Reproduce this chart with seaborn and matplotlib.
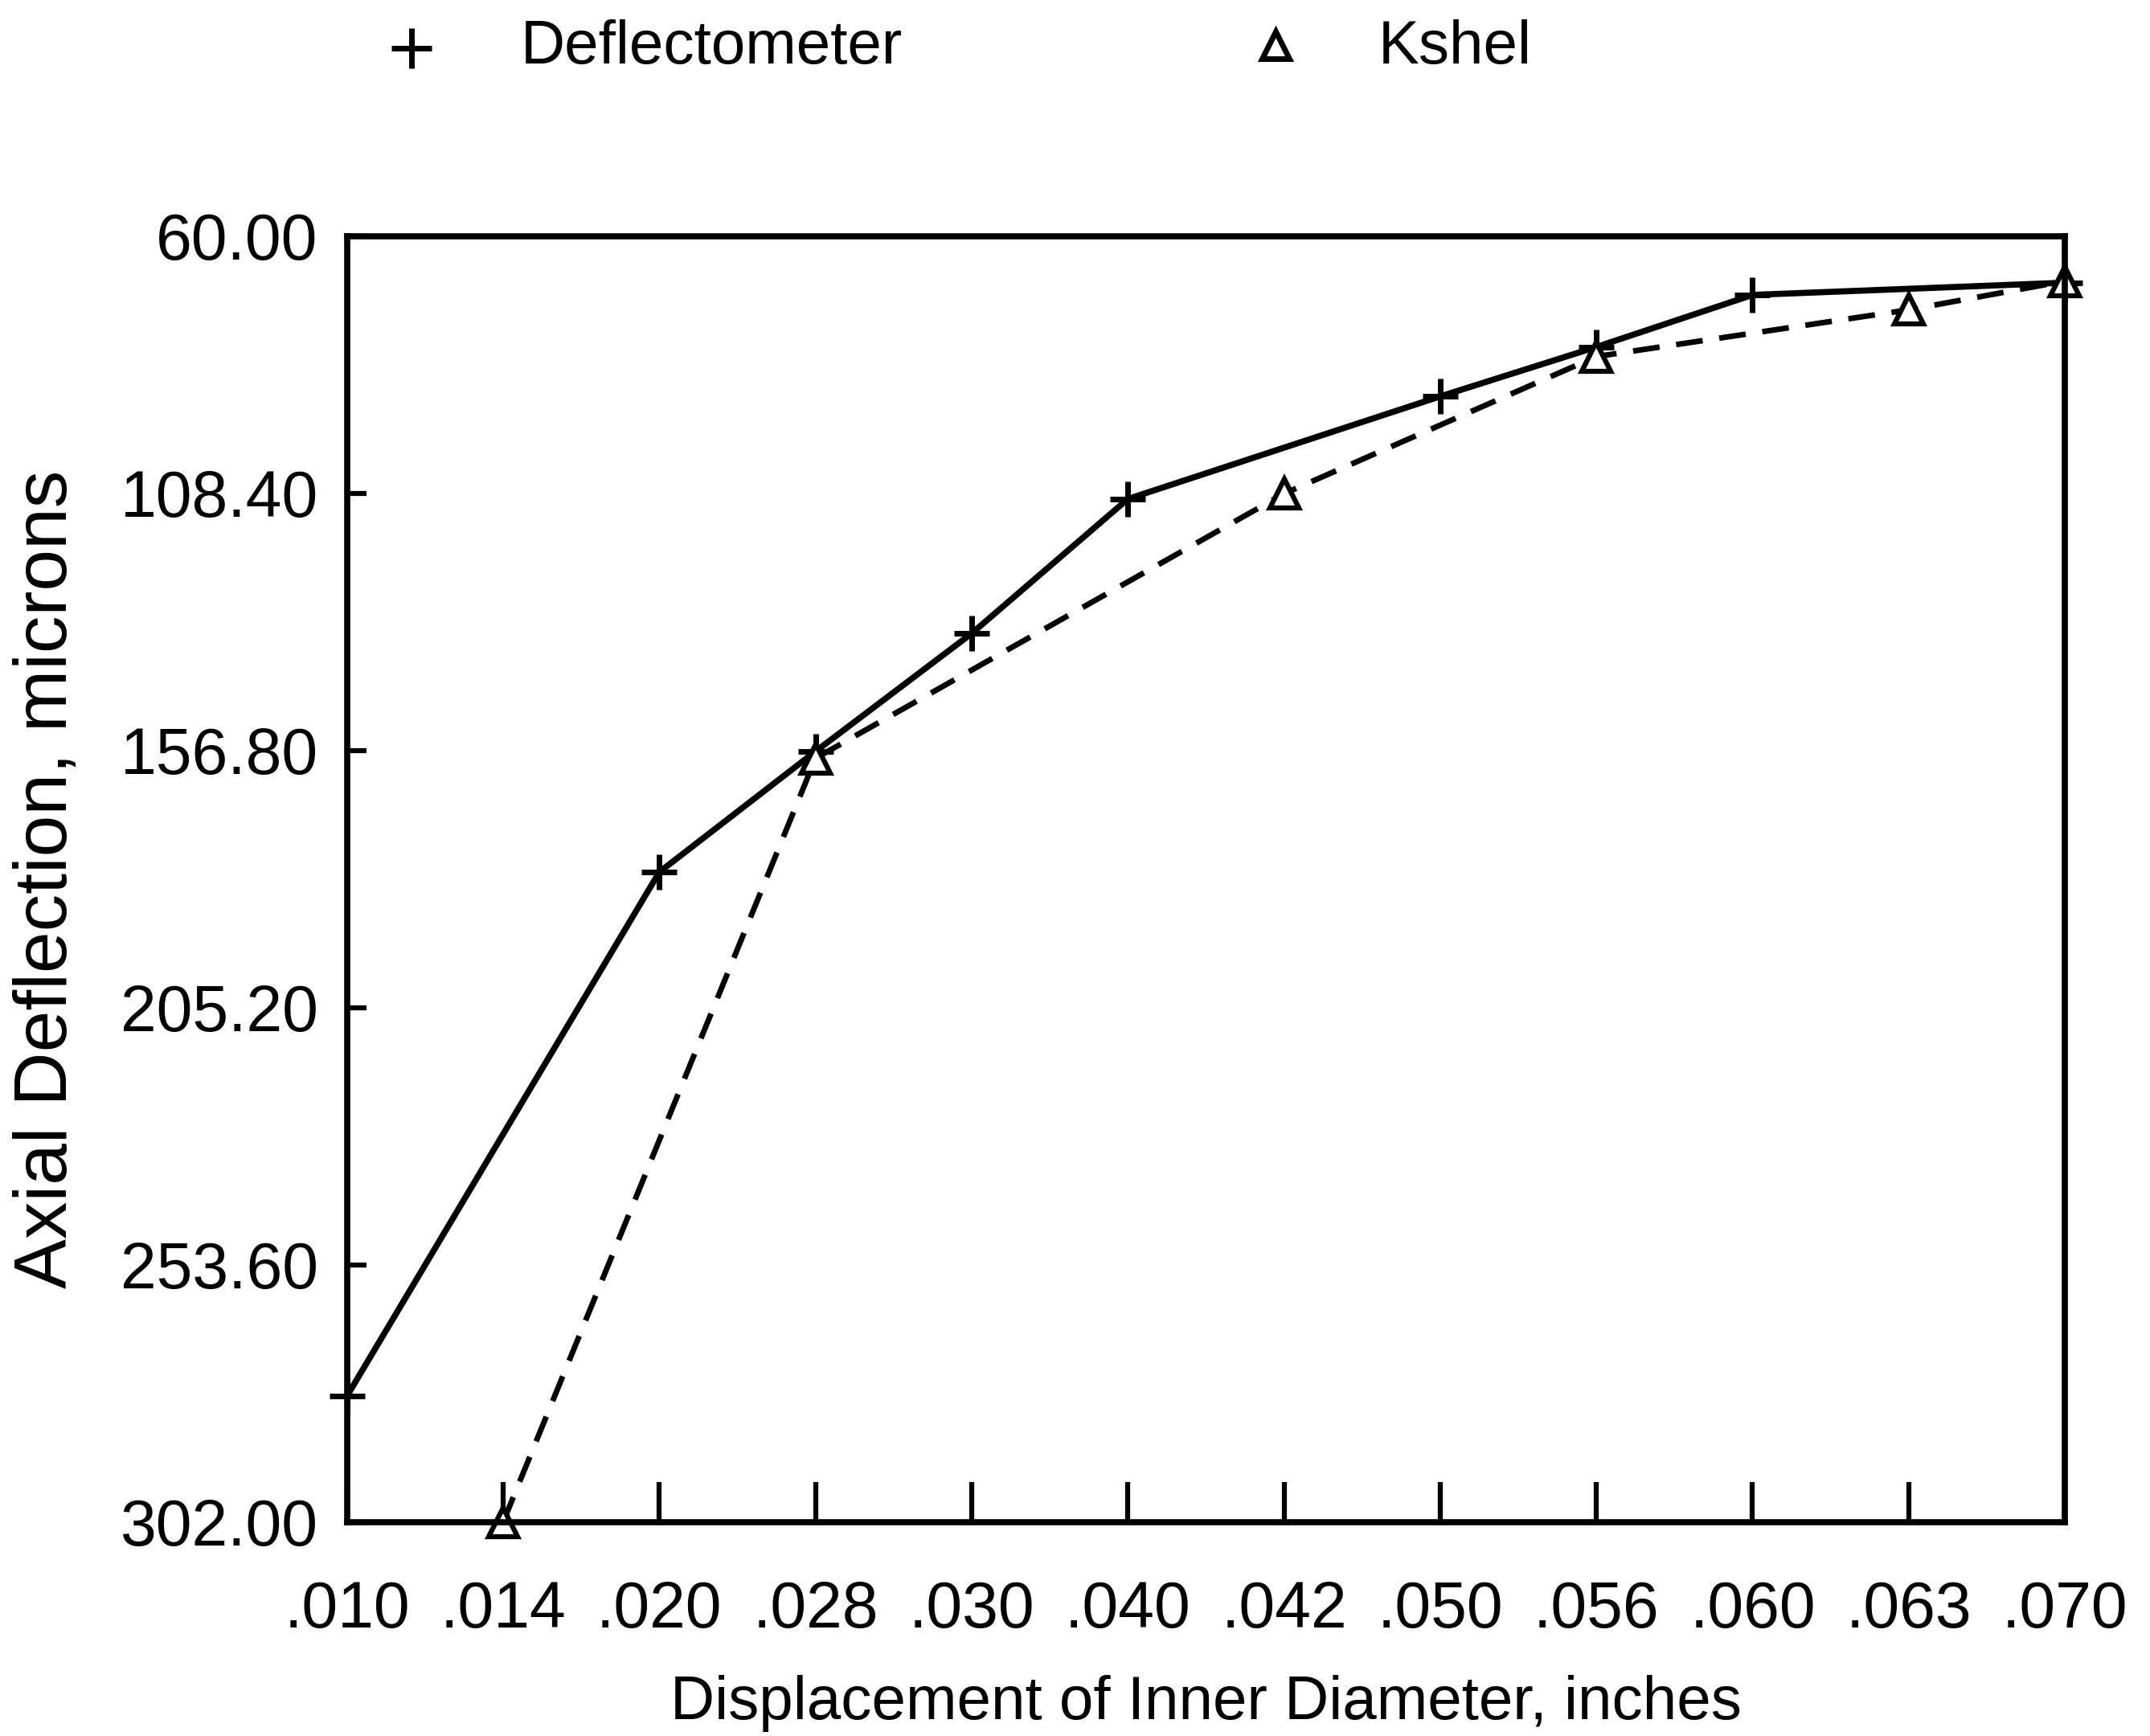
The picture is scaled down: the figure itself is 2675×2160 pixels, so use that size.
import pandas as pd
import seaborn as sns
import matplotlib.pyplot as plt
from matplotlib.lines import Line2D

# x positions are evenly spaced categories
x_labels = [".010", ".014", ".020", ".028", ".030", ".040",
            ".042", ".050", ".056", ".060", ".063", ".070"]
y_ticks = [60.00, 108.40, 156.80, 205.20, 253.60, 302.00]

defl_x = [".010", ".020", ".028", ".030", ".040", ".050", ".056", ".060", ".070"]
defl_y = [278.3, 179.7, 157.0, 134.8, 109.5, 90.2, 80.9, 71.1, 68.8]

kshel_x = [".014", ".028", ".042", ".056", ".063", ".070"]
kshel_y = [302.0, 158.3, 108.5, 82.7, 73.9, 68.5]

sns.set_style("white")
plt.rcParams['font.family'] = ['Liberation Sans', 'DejaVu Sans']
plt.rcParams['text.color'] = 'black'
plt.rcParams['axes.labelcolor'] = 'black'
plt.rcParams['xtick.color'] = 'black'
plt.rcParams['ytick.color'] = 'black'

df_d = pd.DataFrame({"pos": [x_labels.index(v) for v in defl_x], "val": defl_y})
df_k = pd.DataFrame({"pos": [x_labels.index(v) for v in kshel_x], "val": kshel_y})

fig = plt.figure(figsize=(26.75, 21.6), dpi=100)
ax = fig.add_axes([0.1614, 0.1233, 0.799, 0.7408])

sns.lineplot(data=df_d, x="pos", y="val", ax=ax, color="black", linewidth=5.5,
             marker="+", markersize=32, markeredgewidth=5,
             markeredgecolor="black", clip_on=False)
sns.lineplot(data=df_k, x="pos", y="val", ax=ax, color="black", linewidth=5,
             linestyle=(0, (4.8, 3.0)), marker="^", markersize=26,
             markerfacecolor="white", markeredgecolor="black",
             markeredgewidth=4.5, clip_on=False)

ax.set_xlim(0, len(x_labels) - 1)
ax.set_ylim(302, 60)
ax.set_xticks(range(len(x_labels)))
ax.set_xticklabels(x_labels)
ax.set_yticks(y_ticks)
ax.set_yticklabels(["%.2f" % v for v in y_ticks])
ax.tick_params(axis="x", bottom=True, direction="in", length=36, width=4.5,
               labelsize=58, pad=52)
ax.tick_params(axis="y", left=True, direction="in", length=17, width=4.5,
               labelsize=58, pad=26)

for s in ax.spines.values():
    s.set_linewidth(5.5)
    s.set_color("black")

ax.set_xlabel("Displacement of Inner Diameter, inches", fontsize=55, labelpad=30)
ax.set_ylabel("Axial Deflection, microns", fontsize=67, labelpad=34)

# legend drawn above the axes
fig.add_artist(Line2D([512 / 2675], [1 - 60 / 2160], transform=fig.transFigure,
                      marker="+", markersize=36, markeredgewidth=5, color="black"))
fig.text(648 / 2675, 1 - 60 / 2160, "Deflectometer", fontsize=55, va="center", ha="left")
fig.add_artist(Line2D([1587 / 2675], [1 - 56 / 2160], transform=fig.transFigure,
                      marker="^", markersize=24, markeredgewidth=5,
                      markerfacecolor="white", color="black"))
fig.text(1715 / 2675, 1 - 60 / 2160, "Kshel", fontsize=55, va="center", ha="left")

fig.savefig("out.png", dpi=100, facecolor="white")
